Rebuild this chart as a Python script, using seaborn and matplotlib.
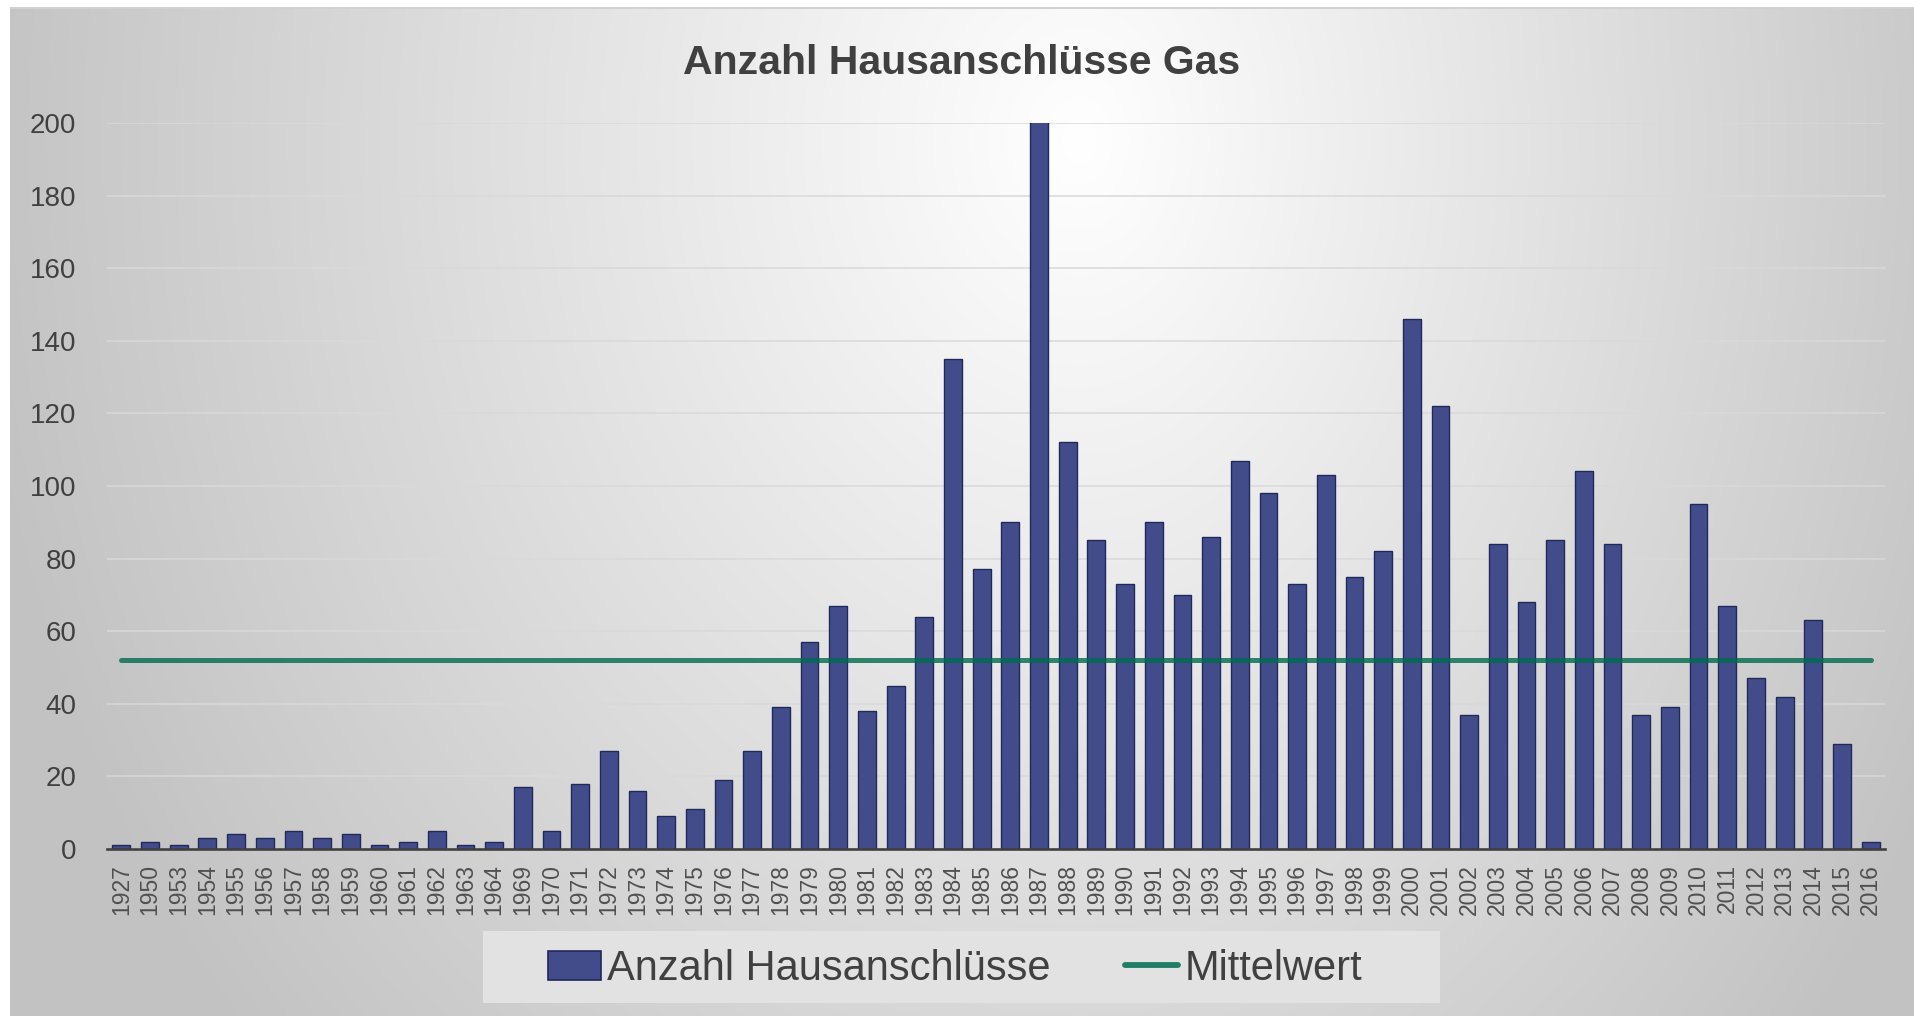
import numpy as np
import pandas as pd
import matplotlib
matplotlib.use("Agg")
import matplotlib.pyplot as plt
from matplotlib.patches import Patch, Rectangle
from matplotlib.lines import Line2D
import seaborn as sns

# ---------------- data ----------------
years = ["1927", "1950", "1953", "1954", "1955", "1956", "1957", "1958", "1959", "1960",
         "1961", "1962", "1963", "1964", "1969", "1970", "1971", "1972", "1973", "1974",
         "1975", "1976", "1977", "1978", "1979", "1980", "1981", "1982", "1983", "1984",
         "1985", "1986", "1987", "1988", "1989", "1990", "1991", "1992", "1993", "1994",
         "1995", "1996", "1997", "1998", "1999", "2000", "2001", "2002", "2003", "2004",
         "2005", "2006", "2007", "2008", "2009", "2010", "2011", "2012", "2013", "2014",
         "2015", "2016"]
anschluesse = [1, 2, 1, 3, 4, 3, 5, 3, 4, 1,
               2, 5, 1, 2, 17, 5, 18, 27, 16, 9,
               11, 19, 27, 39, 57, 67, 38, 45, 64, 135,
               77, 90, 221, 112, 85, 73, 90, 70, 86, 107,
               98, 73, 103, 75, 82, 146, 122, 37, 84, 68,
               85, 104, 84, 37, 39, 95, 67, 47, 42, 63,
               29, 2]
y_ticks = [0, 20, 40, 60, 80, 100, 120, 140, 160, 180, 200]
title = "Anzahl Hausanschlüsse Gas"
label_bars = "Anzahl Hausanschlüsse"
label_mean = "Mittelwert"

mittelwert = float(np.mean(anschluesse))
df = pd.DataFrame({"Jahr": years, "Anzahl": anschluesse})

# ---------------- style ----------------
sns.set_theme(style="white")
plt.rcParams["font.family"] = ["Liberation Sans", "DejaVu Sans"]

W, H = 1914, 1016
fig = plt.figure(figsize=(W / 100, H / 100), dpi=100)
fig.patch.set_facecolor("white")

# background gradient (radial, light centre towards top, grey edges)
bg = fig.add_axes([0, 0, 1, 1], zorder=-10)
bg.set_axis_off()
xx, yy = np.meshgrid(np.arange(W), np.arange(H))
cx, cy = 1080, 140
rx = np.where(xx < cx, 1070.0, 930.0)
ry = 1300.0
r = np.sqrt(((xx - cx) / rx) ** 2 + ((yy - cy) / ry) ** 2)
g = np.clip(255 - 58 * r, 194, 255) / 255.0
img = np.dstack([g, g, g])
img[:8, :, :] = 1.0
img[:, :10, :] = 1.0
img[7:9, 10:, :] = 0.82
bg.imshow(img, extent=(0, W, H, 0), aspect="auto", interpolation="bilinear")
bg.set_xlim(0, W)
bg.set_ylim(H, 0)

# legend background box
fig.patches.append(Rectangle((483 / W, 1 - 1003 / H), (1440 - 483) / W, (1003 - 931) / H,
                             transform=fig.transFigure, facecolor="#e2e2e2",
                             edgecolor="none", zorder=0))

# main axes
ax = fig.add_axes([107 / W, 1 - 849 / H, (1885 - 107) / W, (849 - 123) / H])
ax.set_facecolor((1, 1, 1, 0))

bar_color = "#434c8a"
edge_color = "#1f295c"
sns.barplot(data=df, x="Jahr", y="Anzahl", color=bar_color, saturation=1,
            width=0.62, edgecolor=edge_color, linewidth=1.0, ax=ax, zorder=2)

line_color = "#006b4f"
xpos = np.arange(len(years))
ax.plot(xpos, np.full(len(years), mittelwert), color=line_color, alpha=0.8,
        linewidth=3.6, solid_capstyle="round", zorder=3)

ax.set_xlim(-0.5, len(years) - 0.5)
ax.set_ylim(0, 200)
ax.set_yticks(y_ticks)
ax.set_yticklabels([str(v) for v in y_ticks])
ax.set_xlabel("")
ax.set_ylabel("")
ax.yaxis.grid(True, color="#d9d9d9", linewidth=1.1)
ax.xaxis.grid(False)
ax.set_axisbelow(True)
for s in ["left", "right", "top"]:
    ax.spines[s].set_visible(False)
ax.spines["bottom"].set_color("#404040")
ax.spines["bottom"].set_linewidth(1.9)
ax.spines["bottom"].set_zorder(4)
ax.tick_params(axis="y", length=0, pad=22, labelsize=20, labelcolor="#404040")
ax.tick_params(axis="x", length=0, pad=11, labelsize=16.5, labelcolor="#505050",
               labelrotation=90)

fig.text(962 / W, 1 - 74 / H, title, ha="center", va="baseline",
         fontsize=29.5, fontweight="bold", color="#404040")

handles = [Patch(facecolor=bar_color, edgecolor=edge_color, linewidth=1.2),
           Line2D([0], [0], color=line_color, alpha=0.85, linewidth=4.2,
                  solid_capstyle="round")]
fig.legend(handles, [label_bars, label_mean], loc="center",
           bbox_to_anchor=(955 / W, 1 - 969 / H), bbox_transform=fig.transFigure,
           ncol=2, frameon=False, fontsize=30, labelcolor="#404040",
           handlelength=1.27, handleheight=0.7, handletextpad=0.15,
           columnspacing=1.8, borderpad=0)

fig.savefig("out.png", dpi=100)
